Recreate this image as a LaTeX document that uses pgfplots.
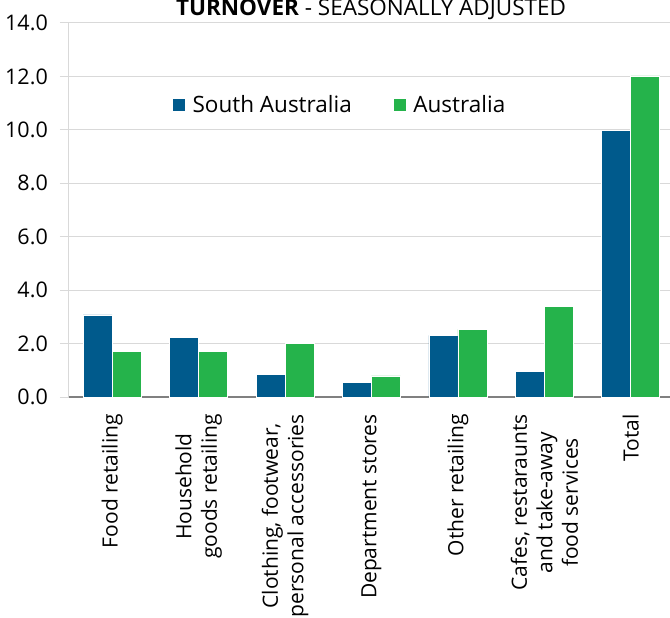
\documentclass[border=0pt]{standalone}
\usepackage{fontspec}
\setmainfont{Open Sans}
\usepackage{pgfplots}
\pgfplotsset{compat=1.18}
\definecolor{sa}{RGB}{0,90,140}
\definecolor{au}{RGB}{37,179,75}
\definecolor{gridc}{RGB}{217,217,217}
\definecolor{axc}{RGB}{128,128,128}
\begin{document}
\begin{tikzpicture}
\begin{axis}[name=ax, at={(0pt,0pt)}, anchor=south west,
  scale only axis, width=605pt, height=374pt,
  xmin=-0.5, xmax=6.5, ymin=0, ymax=14,
  ybar=0pt, bar width=29pt,
  axis x line*=bottom, axis y line*=left,
  x axis line style={draw=axc, line width=1.5pt, -},
  y axis line style={draw=gridc, line width=1pt, -},
  xtick={0,1,2,3,4,5,6},
  xticklabels={{Food retailing},{Household\\goods retailing},{Clothing, footwear,\\personal accessories},{Department stores},{Other retailing},{Cafes, restaraunts\\and take-away\\food services},{Total}},
  x tick style={draw=none},
  ytick={0,2,4,6,8,10,12,14},
  ymajorgrids, grid style={draw=gridc, line width=1pt},
  y tick style={draw=gridc, line width=1pt},
  tick align=outside, major tick length=9pt,
  /pgf/number format/assume math mode=true,
  y tick label style={/pgf/number format/fixed, /pgf/number format/fixed zerofill, /pgf/number format/precision=1},
  yticklabel style={font=\fontsize{21.5}{26}\selectfont, text=black, inner sep=0pt, xshift=-12pt},
  xticklabel style={font=\fontsize{21}{25.5}\selectfont, text=black, rotate=90, anchor=east, align=center, inner sep=0pt, xshift=-8pt},
  legend style={at={(0.165,0.781)}, anchor=west, draw=none, fill=none,
    font=\fontsize{22.5}{26}\selectfont, legend columns=2,
    /tikz/every odd column/.append style={column sep=5pt},
    /tikz/every even column/.append style={column sep=39pt}},
  legend image code/.code={\fill[#1] (0pt,-6.5pt) rectangle (13pt,6.5pt);},
]
\addplot[fill=sa, draw=white, line width=0.6pt] coordinates {(0,3.07) (1,2.23) (2,0.86) (3,0.56) (4,2.31) (5,0.95) (6,9.97)};
\addplot[fill=au, draw=white, line width=0.6pt] coordinates {(0,1.70) (1,1.70) (2,2.01) (3,0.79) (4,2.53) (5,3.38) (6,12.02)};
\legend{South Australia, Australia}
\end{axis}
\node[anchor=base, font=\fontsize{22.5}{26}\selectfont] at ([xshift=302pt, yshift=381pt]ax.south west) {\textbf{TURNOVER} - SEASONALLY ADJUSTED};
\pgfresetboundingbox
\path[use as bounding box] (ax.south west) ++(-69pt,-221pt) rectangle ++(670pt,618pt);
\end{tikzpicture}
\end{document}
